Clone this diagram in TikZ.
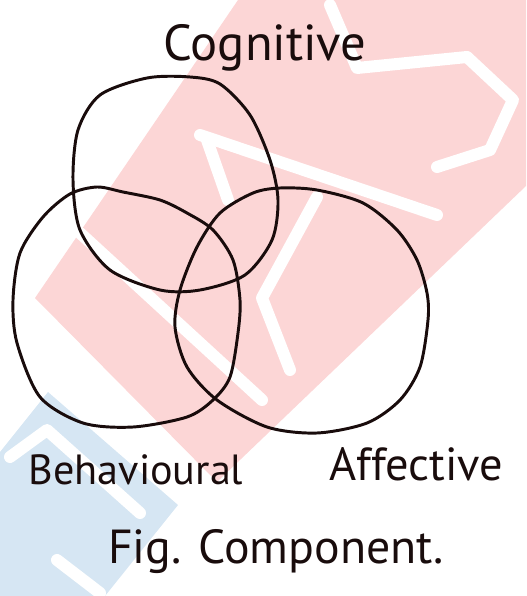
\documentclass[tikz,border=0pt]{standalone}
\usepackage{fontspec}
\setmainfont{PT Sans}
\usetikzlibrary{positioning}
\definecolor{markpink}{RGB}{252,214,214}
\definecolor{markblue}{RGB}{214,230,243}
\definecolor{inkline}{RGB}{25,12,12}

\begin{document}
\begin{tikzpicture}[x=0.25mm, y=-0.25mm,
		vennring/.style={draw=inkline, line width=2.1pt},
		venntext/.style={text=inkline, font=\fontsize{30}{30}\selectfont},
		markgap/.style={draw=white, line width=3mm, line cap=round, line join=round}]
		\useasboundingbox (0,0) rectangle (526,596);
		
		% watermark behind the sketch
		\fill[markpink] (238,0) -- (526,0) -- (526,186) -- (217,482) -- (35,298) -- cycle;
		\fill[markblue] (0,452) -- (48,392) -- (178,505) -- (105,596) -- (0,596) -- cycle;
		\draw[markgap] (200,135) -- (437,215);
		\draw[markgap] (207,140) -- (228,200);
		\draw[markgap] (317,197) -- (262,298) -- (290,370);
		\draw[markgap] (80,233) -- (262,400);
		\draw[markgap] (330,5) -- (357,68) -- (467,57) -- (513,100) -- (490,150) -- (437,167);
		\draw[markgap] (10,457) -- (47,430) -- (140,513);
		\draw[markgap] (57,560) -- (100,593);
		
		% the three rings
		\draw[vennring] plot[smooth cycle] coordinates {(147,78) (190,77) (220,84) (250,115) (270,160) (278,200) (272,240) (245,275) (200,290) (160,290) (110,270) (80,230) (73,180) (78,130) (100,95)};
		\draw[vennring] plot[smooth cycle] coordinates {(97,187) (123,192) (160,200) (187,213) (213,230) (233,260) (240,300) (238,333) (230,377) (213,400) (187,417) (133,427) (83,423) (40,397) (17,343) (13,300) (20,253) (43,217) (70,194)};
		\draw[vennring] plot[smooth cycle] coordinates {(280,188) (317,190) (363,203) (397,230) (417,260) (427,293) (428,320) (420,367) (400,400) (367,423) (317,433) (267,427) (217,400) (187,367) (175,327) (180,290) (197,247) (220,213) (253,193)};
		
		% labels
		\node[venntext, font=\fontsize{36}{36}\selectfont] (cog) at (265,48) {Cognitive};
		\node[venntext] (beh) at (136,470) {Behavioural};
		\node[venntext, font=\fontsize{33}{33}\selectfont] (aff) at (416,464) {Affective};
		\node[venntext, font=\fontsize{34}{34}\selectfont] (fig) at (276,552) {Fig. Component.};
	\end{tikzpicture}
\end{document}
